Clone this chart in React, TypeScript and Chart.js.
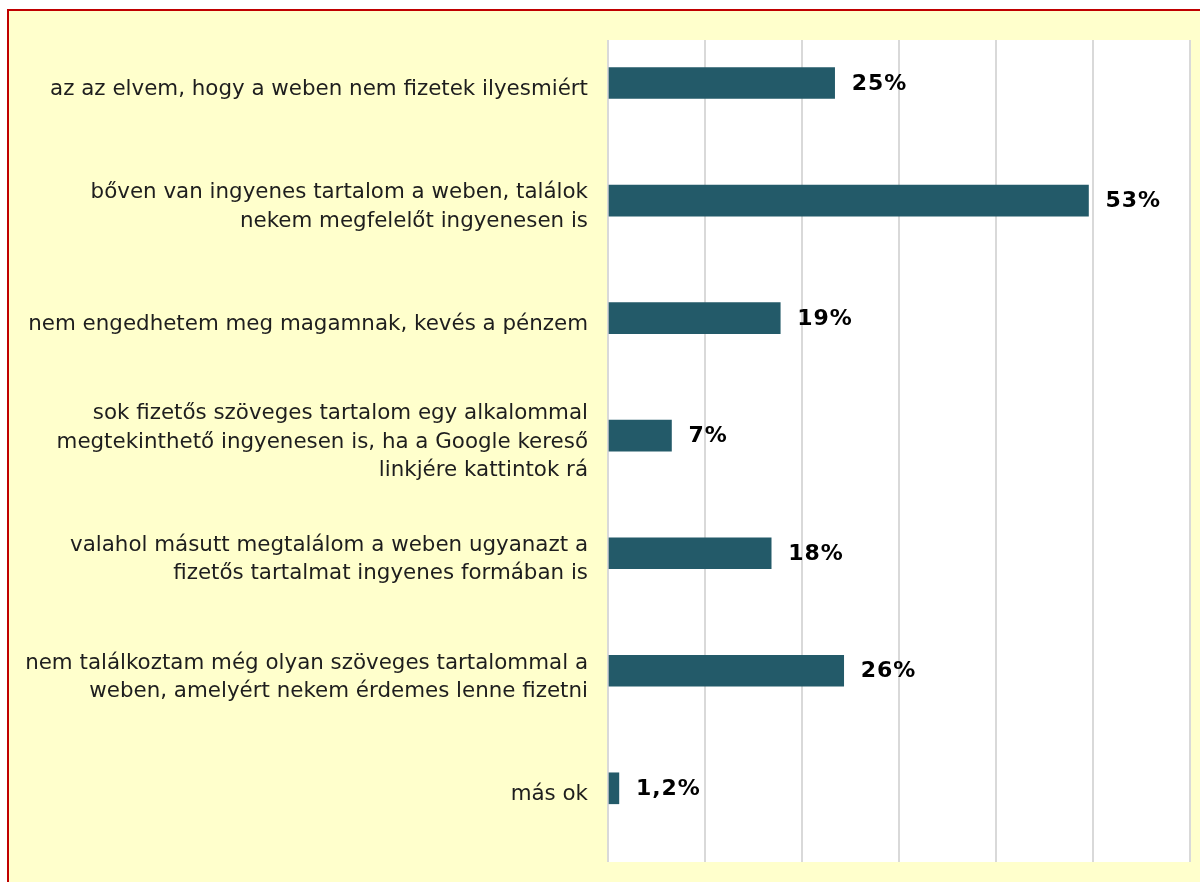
import React, { useEffect, useRef } from "react";
import { Chart, registerables } from "chart.js";

Chart.register(...registerables);

const categories: (string | string[])[] = [
  "az az elvem, hogy a weben nem fizetek ilyesmiért",
  ["bőven van ingyenes tartalom a weben, találok", "nekem megfelelőt ingyenesen is"],
  "nem engedhetem meg magamnak, kevés a pénzem",
  [
    "sok fizetős szöveges tartalom egy alkalommal",
    "megtekinthető ingyenesen is, ha a Google kereső",
    "linkjére kattintok rá",
  ],
  ["valahol másutt megtalálom a weben ugyanazt a", "fizetős tartalmat ingyenes formában is"],
  ["nem találkoztam még olyan szöveges tartalommal a", "weben, amelyért nekem érdemes lenne fizetni"],
  "más ok",
];

const values: number[] = [25, 53, 19, 7, 18, 26, 1.2];

const X_MAX = 64.2;
const GRID_COUNT = 6;
const LABEL_SHIFT = 0.055;

const FONT = '"DejaVu Sans", Verdana, sans-serif';

const plotBackground = {
  id: "plotBackground",
  beforeDraw(chart: any) {
    const { ctx, chartArea } = chart;
    ctx.save();
    ctx.fillStyle = "#ffffff";
    ctx.fillRect(chartArea.left, chartArea.top, chartArea.right - chartArea.left, chartArea.bottom - chartArea.top);
    ctx.restore();
  },
};

const valueLabels = {
  id: "valueLabels",
  afterDatasetsDraw(chart: any) {
    const { ctx } = chart;
    const meta = chart.getDatasetMeta(0);
    ctx.save();
    ctx.font = `bold 22px ${FONT}`;
    try {
      (ctx as any).letterSpacing = "1px";
    } catch (e) {}
    ctx.fillStyle = "#000000";
    ctx.textAlign = "left";
    ctx.textBaseline = "middle";
    meta.data.forEach((bar: any, i: number) => {
      const txt = String(values[i]).replace(".", ",") + "%";
      ctx.fillText(txt, bar.x + 17, bar.y + 1);
    });
    ctx.restore();
  },
};

export default function App() {
  const ref = useRef<HTMLCanvasElement | null>(null);

  useEffect(() => {
    if (!ref.current) return;
    const chart = new Chart(ref.current, {
      type: "bar",
      data: {
        datasets: [
          {
            data: values.map((v, i) => ({ x: v, y: i })),
            backgroundColor: "#235a69",
            borderWidth: 0,
            barThickness: 31,
          },
        ],
      },
      options: {
        indexAxis: "y",
        responsive: false,
        animation: false,
        layout: { padding: { left: 0, top: 40, right: 10, bottom: 20 } },
        plugins: {
          legend: { display: false },
          tooltip: { enabled: false },
        },
        scales: {
          x: {
            type: "linear",
            min: 0,
            max: X_MAX,
            ticks: { display: false },
            grid: { color: "#d9d9d9", lineWidth: 2, drawTicks: false },
            border: { display: false },
            afterBuildTicks: (s: any) => {
              s.ticks = Array.from({ length: GRID_COUNT + 1 }, (_, i) => ({ value: (i * X_MAX) / GRID_COUNT }));
            },
            afterFit: (s: any) => {
              s.height = 0;
              s.paddingLeft = 0;
              s.paddingRight = 0;
            },
          },
          y: {
            type: "linear",
            reverse: true,
            offset: false,
            min: -0.366,
            max: 6.627,
            grid: { display: false, drawTicks: false, offset: false },
            border: { display: false },
            ticks: {
              autoSkip: false,
              padding: 20,
              color: "#1e1e1e",
              font: { family: FONT, size: 21.4, lineHeight: 1.33 },
              callback: (v: any) => categories[Math.round(Number(v))] ?? "",
            },
            afterBuildTicks: (s: any) => {
              s.ticks = categories.map((_, i) => ({ value: i + LABEL_SHIFT }));
            },
            afterFit: (s: any) => {
              s.width = 608;
              s.paddingTop = 0;
              s.paddingBottom = 0;
            },
          },
        },
      } as any,
      plugins: [plotBackground, valueLabels],
    });
    return () => chart.destroy();
  }, []);

  return (
    <div>
      <div
        style={{
          position: "fixed",
          left: 7,
          top: 9,
          right: 0,
          bottom: 0,
          background: "#ffffcc",
          borderLeft: "2px solid #c00000",
          borderTop: "2px solid #c00000",
        }}
      />
      <canvas
        ref={ref}
        width={1200}
        height={882}
        style={{ position: "fixed", left: 0, top: 0, width: 1200, height: 882 }}
      />
    </div>
  );
}
